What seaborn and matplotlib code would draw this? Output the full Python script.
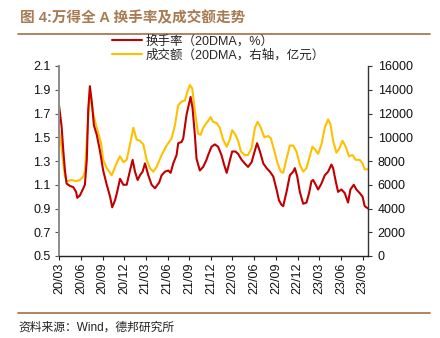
import matplotlib
matplotlib.use("Agg")
import matplotlib.pyplot as plt
from matplotlib.lines import Line2D
import matplotlib.dates as mdates
import pandas as pd
import seaborn as sns

# 换手率（20DMA，%）
turnover_dates = [
    "2020-03-02", "2020-03-13", "2020-03-20", "2020-03-27", "2020-04-03", "2020-04-17",
    "2020-05-01", "2020-05-13", "2020-05-18", "2020-05-29", "2020-06-10", "2020-06-19",
    "2020-06-27", "2020-07-03", "2020-07-10", "2020-07-18", "2020-07-27", "2020-08-08",
    "2020-08-21", "2020-09-04", "2020-09-19", "2020-10-03", "2020-10-12", "2020-10-24",
    "2020-11-02", "2020-11-14", "2020-11-28", "2020-12-12", "2020-12-26", "2021-01-06",
    "2021-01-16", "2021-01-27", "2021-02-06", "2021-02-17", "2021-02-27", "2021-03-13",
    "2021-03-27", "2021-04-10", "2021-04-28", "2021-05-08", "2021-05-22", "2021-06-05",
    "2021-06-15", "2021-06-26", "2021-07-10", "2021-07-17", "2021-07-31", "2021-08-07",
    "2021-08-21", "2021-09-07", "2021-09-15", "2021-09-25", "2021-10-02", "2021-10-16",
    "2021-10-30", "2021-11-13", "2021-11-20", "2021-12-04", "2021-12-18", "2022-01-01",
    "2022-01-15", "2022-01-26", "2022-02-06", "2022-02-15", "2022-03-01", "2022-03-15",
    "2022-03-26", "2022-04-10", "2022-04-23", "2022-05-07", "2022-05-22", "2022-06-05",
    "2022-06-14", "2022-06-26", "2022-07-10", "2022-07-24", "2022-08-07", "2022-08-21",
    "2022-09-04", "2022-09-14", "2022-09-25", "2022-10-02", "2022-10-16", "2022-10-30",
    "2022-11-13", "2022-11-20", "2022-11-30", "2022-12-11", "2022-12-25", "2023-01-08",
    "2023-01-19", "2023-01-29", "2023-02-05", "2023-02-16", "2023-02-26", "2023-03-12",
    "2023-03-26", "2023-04-09", "2023-04-23", "2023-04-30", "2023-05-11", "2023-05-21",
    "2023-06-04", "2023-06-18", "2023-07-02", "2023-07-12", "2023-07-26", "2023-08-06",
    "2023-08-20", "2023-09-01", "2023-09-10", "2023-09-24",
]
turnover = [
    1.77, 1.59, 1.39, 1.22, 1.11, 1.09,
    1.08, 1.04, 0.99, 1.01, 1.06, 1.10,
    1.31, 1.73, 1.93, 1.80, 1.60, 1.52,
    1.39, 1.22, 1.10, 1.00, 0.91, 0.97,
    1.04, 1.15, 1.10, 1.10, 1.22, 1.31,
    1.21, 1.14, 1.18, 1.21, 1.28, 1.18,
    1.10, 1.07, 1.12, 1.18, 1.21, 1.22,
    1.20, 1.28, 1.35, 1.45, 1.46, 1.49,
    1.69, 1.84, 1.75, 1.52, 1.32, 1.22,
    1.25, 1.31, 1.35, 1.42, 1.44, 1.42,
    1.35, 1.27, 1.20, 1.27, 1.38, 1.38,
    1.36, 1.31, 1.28, 1.25, 1.29, 1.39,
    1.45, 1.38, 1.28, 1.24, 1.21, 1.17,
    1.06, 0.97, 0.93, 0.92, 1.04, 1.18,
    1.21, 1.24, 1.17, 1.04, 0.94, 0.95,
    1.03, 1.13, 1.14, 1.10, 1.06, 1.11,
    1.18, 1.21, 1.27, 1.24, 1.13, 1.04,
    1.06, 1.03, 0.95, 1.06, 1.10, 1.06,
    1.03, 1.00, 0.92, 0.90,
]

# 成交额（20DMA，亿元）
amount_dates = [
    "2020-03-02", "2020-03-13", "2020-03-20", "2020-03-27", "2020-04-03", "2020-04-24",
    "2020-05-13", "2020-05-29", "2020-06-12", "2020-06-19", "2020-06-29", "2020-07-07",
    "2020-07-13", "2020-07-24", "2020-08-05", "2020-08-14", "2020-08-26", "2020-09-04",
    "2020-09-19", "2020-10-10", "2020-10-24", "2020-11-06", "2020-11-14", "2020-11-28",
    "2020-12-12", "2020-12-26", "2021-01-09", "2021-01-23", "2021-02-06", "2021-02-20",
    "2021-03-06", "2021-03-20", "2021-04-03", "2021-04-17", "2021-05-08", "2021-05-29",
    "2021-06-19", "2021-07-03", "2021-07-17", "2021-07-31", "2021-08-14", "2021-08-24",
    "2021-09-04", "2021-09-14", "2021-09-25", "2021-10-09", "2021-10-19", "2021-10-30",
    "2021-11-13", "2021-11-24", "2021-11-30", "2021-12-11", "2021-12-25", "2022-01-08",
    "2022-01-22", "2022-02-06", "2022-02-19", "2022-03-01", "2022-03-15", "2022-03-26",
    "2022-04-07", "2022-04-23", "2022-05-07", "2022-05-22", "2022-06-05", "2022-06-16",
    "2022-06-30", "2022-07-14", "2022-07-31", "2022-08-11", "2022-08-25", "2022-09-08",
    "2022-09-22", "2022-10-02", "2022-10-16", "2022-10-30", "2022-11-13", "2022-11-27",
    "2022-12-11", "2022-12-25", "2023-01-08", "2023-01-19", "2023-02-02", "2023-02-12",
    "2023-02-26", "2023-03-12", "2023-03-26", "2023-04-09", "2023-04-19", "2023-04-30",
    "2023-05-14", "2023-05-25", "2023-06-09", "2023-06-22", "2023-07-06", "2023-07-21",
    "2023-08-03", "2023-08-20", "2023-09-01", "2023-09-10", "2023-09-24",
]
amount = [
    10600, 9100, 7800, 6700, 6300, 6400,
    6300, 6400, 6700, 7100, 10300, 12900,
    13400, 12000, 11000, 10400, 9500, 8100,
    7400, 6800, 7500, 8100, 8400, 7900,
    8100, 9400, 10800, 9800, 9700, 9400,
    8100, 7400, 7100, 7500, 8500, 9300,
    9900, 11000, 12700, 13000, 13100, 13800,
    14400, 14100, 12200, 10300, 10200, 10800,
    11200, 11500, 11700, 11300, 11200, 10800,
    9800, 9200, 9800, 10600, 10200, 9700,
    8800, 8500, 8500, 9100, 10800, 11300,
    10800, 10000, 10100, 9900, 8900, 7800,
    7100, 7000, 8200, 9300, 9300, 8800,
    7700, 7100, 7400, 8200, 9200, 9000,
    8600, 9400, 10800, 11500, 11100, 9700,
    8700, 9000, 9700, 9200, 8400, 8500,
    8100, 8100, 7800, 7300, 7300,
]

left_ticks = [0.5, 0.7, 0.9, 1.1, 1.3, 1.5, 1.7, 1.9, 2.1]
right_ticks = [0, 2000, 4000, 6000, 8000, 10000, 12000, 14000, 16000]

title = "图 4:万得全 A 换手率及成交额走势"
label_turnover = "换手率（20DMA，%）"
label_amount = "成交额（20DMA，右轴，亿元）"
source = "资料来源：Wind，德邦研究所"

RED = "#C00000"
GOLD = "#FFC000"
BROWN = "#A87B52"

sns.set_style("ticks")
plt.rcParams["font.family"] = ["Liberation Sans", "Noto Sans CJK SC", "DejaVu Sans"]
plt.rcParams["axes.unicode_minus"] = False

W, H = 440, 338
fig = plt.figure(figsize=(W / 100, H / 100), dpi=100)
ax = fig.add_axes([59 / W, 1 - 256 / H, (368 - 59) / W, (256 - 66) / H])
ax2 = ax.twinx()

t_df = pd.DataFrame({"date": pd.to_datetime(turnover_dates), "v": turnover})
a_df = pd.DataFrame({"date": pd.to_datetime(amount_dates), "v": amount})

sns.lineplot(data=a_df, x="date", y="v", ax=ax2, color=GOLD, linewidth=1.5)
sns.lineplot(data=t_df, x="date", y="v", ax=ax, color=RED, linewidth=1.5)

# turnover line sits above the amount line
ax.set_zorder(ax2.get_zorder() + 1)
ax.patch.set_visible(False)

ax.set_ylim(0.5, 2.1)
ax.set_yticks(left_ticks)
ax.set_yticklabels([f"{v:.1f}" for v in left_ticks])
ax2.set_ylim(0, 16000)
ax2.set_yticks(right_ticks)
ax2.set_yticklabels([str(v) for v in right_ticks])

start = pd.Timestamp(turnover_dates[0])
end = pd.Timestamp(turnover_dates[-1])
ax.set_xlim(start, end)
qticks = pd.date_range(start, periods=15, freq=pd.DateOffset(months=3))
ax.set_xticks(qticks)
ax.xaxis.set_major_formatter(mdates.DateFormatter("%y/%m"))
for lab in ax.get_xticklabels():
    lab.set_rotation(90)

for a in (ax, ax2):
    a.set_xlabel("")
    a.set_ylabel("")
    a.spines["top"].set_visible(False)
ax.spines["right"].set_visible(False)
ax2.spines["left"].set_visible(False)
ax2.spines["bottom"].set_visible(False)
ax.spines["left"].set_color("#8c8c8c")
ax.spines["left"].set_linewidth(1.4)
ax.spines["bottom"].set_color("#222222")
ax.spines["bottom"].set_linewidth(1.0)
ax2.spines["right"].set_color("#333333")
ax2.spines["right"].set_linewidth(1.0)

ax.tick_params(axis="y", labelsize=9, length=3, width=0.8, color="#555555", pad=3, labelcolor="#111111")
ax.tick_params(axis="x", labelsize=9, length=3, width=0.8, color="#222222", pad=2, labelcolor="#111111")
ax2.tick_params(axis="y", labelsize=9, length=3, width=0.8, color="#333333", pad=4, labelcolor="#111111")

handles = [
    Line2D([], [], color=RED, linewidth=1.5),
    Line2D([], [], color=GOLD, linewidth=1.5),
]
fig.legend(handles, [label_turnover, label_amount], loc="upper left",
           bbox_to_anchor=(112 / W, 1 - 35 / H), frameon=False, fontsize=9,
           handlelength=2.4, handletextpad=0.3, labelspacing=0.15,
           borderpad=0, borderaxespad=0)

fig.text(20 / W, 1 - 18 / H, title, fontsize=10.5, fontweight="bold", color=BROWN,
         va="center", ha="left")
fig.add_artist(Line2D([18 / W, 430 / W], [1 - 34 / H, 1 - 34 / H], color=BROWN, linewidth=1.3))
fig.add_artist(Line2D([18 / W, 430 / W], [1 - 313 / H, 1 - 313 / H], color=BROWN, linewidth=1.3))
fig.text(18 / W, 1 - 322 / H, source, fontsize=8.5, color="#222222", va="top", ha="left")

fig.savefig("out.png", dpi=100)
